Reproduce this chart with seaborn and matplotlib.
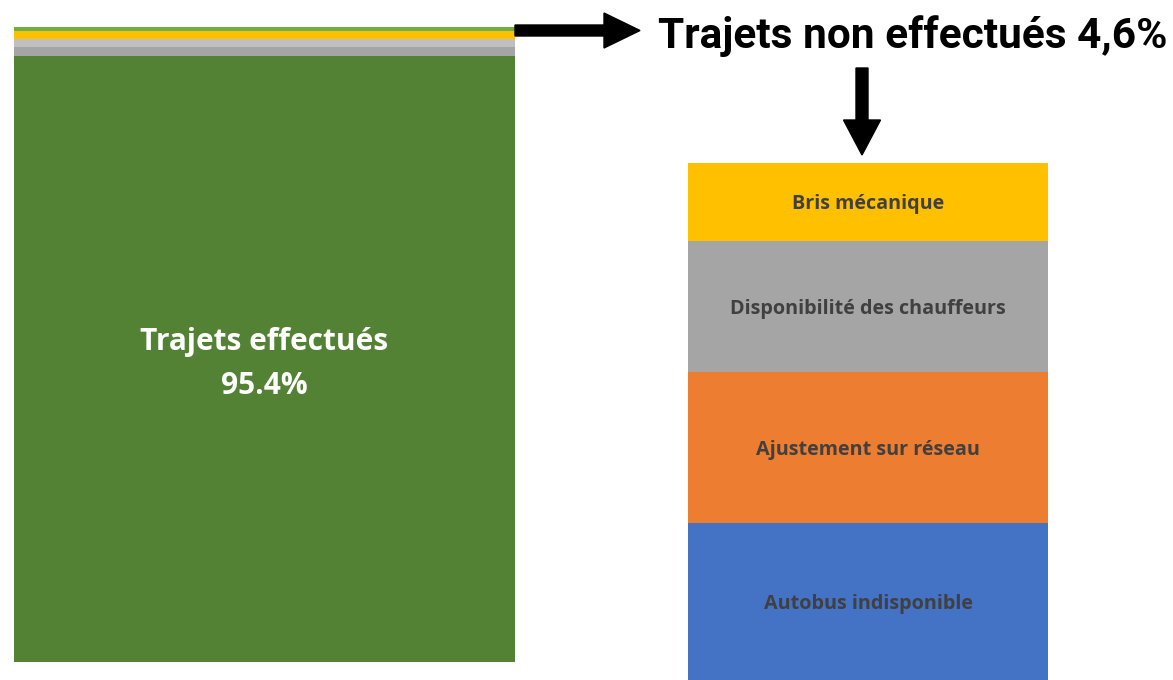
import numpy as np
import pandas as pd
import matplotlib.pyplot as plt
import seaborn as sns
from matplotlib.patches import FancyArrow

sns.set_theme(style="white")
plt.rcParams['font.family'] = ['Open Sans', 'DejaVu Sans']

# données (en % des trajets)
effectues = 95.4
causes = ["Autobus indisponible", "Ajustement sur réseau",
          "Disponibilité des chauffeurs", "Bris mécanique"]
valeurs = [1.40, 1.34, 1.17, 0.69]
couleurs_droite = ["#4472C4", "#ED7D31", "#A5A5A5", "#FFC000"]
couleurs_gauche = ["#A5A5A5", "#BFBFBF", "#FFC000", "#70AD47"]
vert = "#548235"

W, H = 1173, 680
fig = plt.figure(figsize=(W / 100, H / 100), dpi=100)
ax1 = fig.add_axes([14 / W, 18 / H, 501 / W, 635 / H])
ax2 = fig.add_axes([688 / W, 0, 360 / W, 517 / H])

# barre de gauche : effectués + non effectués empilés
sns.barplot(x=[0], y=[effectues], color=vert, width=1, saturation=1,
            errorbar=None, linewidth=0, ax=ax1)
bas = effectues
for v, c in zip(valeurs, couleurs_gauche):
    sns.barplot(x=[0], y=[v], bottom=bas, color=c, width=1, saturation=1,
                errorbar=None, linewidth=0, ax=ax1)
    bas += v
ax1.set_xlim(-0.5, 0.5)
ax1.set_ylim(0, 100)
ax1.text(0, effectues / 2 - 0.8, f"Trajets effectués\n{effectues:.1f}%", ha="center",
         va="center", color="white", fontsize=21.5, fontweight="bold", linespacing=1.6)
ax1.set_axis_off()

# barre de droite : détail des trajets non effectués
bas = 0
for nom, v, c in zip(causes, valeurs, couleurs_droite):
    sns.barplot(x=[0], y=[v], bottom=bas, color=c, width=1, saturation=1,
                errorbar=None, linewidth=0, ax=ax2)
    ax2.text(0, bas + v / 2 - 0.02, nom, ha="center", va="center", color="#404040",
             fontsize=14.2, fontweight="bold")
    bas += v
ax2.set_xlim(-0.5, 0.5)
ax2.set_ylim(0, sum(valeurs))
ax2.set_axis_off()

# titre et flèches
total = f"{sum(valeurs):.1f}".replace(".", ",")
fig.text(913 / W, 1 - 36 / H, f"Trajets non effectués {total}%", ha="center", va="center",
         fontsize=30.5, fontweight="bold", color="black", family=["Roboto", "DejaVu Sans"])

tr = fig.dpi_scale_trans
fig.add_artist(FancyArrow(5.15, (H - 30.5) / 100, 1.25, 0, width=0.11, head_width=0.35,
                          head_length=0.36, length_includes_head=True,
                          color="black", transform=tr))
fig.add_artist(FancyArrow(8.62, (H - 68) / 100, 0, -0.87, width=0.12, head_width=0.37,
                          head_length=0.35, length_includes_head=True,
                          color="black", transform=tr))

plt.savefig("out.png", dpi=100)
